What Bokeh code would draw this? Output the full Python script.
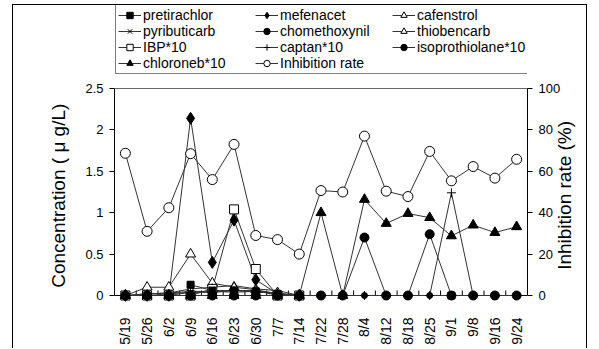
import math
from bokeh.plotting import figure
from bokeh.models import (Range1d, LinearAxis, FixedTicker, Legend, LegendItem,
                          Span, NumeralTickFormatter)
from bokeh.embed import file_html
from bokeh.resources import INLINE

nan = float("nan")

# ---------------- data ----------------
dates = ["5/19", "5/26", "6/2", "6/9", "6/16", "6/23", "6/30", "7/7", "7/14",
         "7/22", "7/28", "8/4", "8/12", "8/18", "8/25", "9/1", "9/8", "9/16", "9/24"]

pretirachlor = [nan, nan, nan, 0.13, 0.06, 0.06, 0.05, 0.02, nan,
                nan, nan, nan, nan, nan, nan, 0.0, nan, nan, nan]
mefenacet = [0.0, 0.0, 0.0, 2.14, 0.40, 0.91, 0.19, 0.02, 0.0,
             nan, nan, nan, nan, nan, nan, nan, nan, nan, nan]
cafenstrol = [0.0, 0.10, 0.10, 0.50, 0.15, 0.10, 0.07, 0.02, 0.0,
              nan, nan, nan, nan, nan, nan, nan, nan, nan, nan]
pyributicarb = [0.0, 0.02, 0.03, 0.05, 0.05, 0.04, 0.05, 0.02, 0.0,
                nan, nan, nan, nan, nan, nan, nan, nan, nan, nan]
chomethoxynil = [0.0, 0.0, 0.0, 0.04, 0.04, 0.06, 0.06, 0.0, 0.0,
                 0.0, 0.0, 0.0, 0.0, 0.0, 0.0, 0.0, 0.0, 0.0, 0.0]
thiobencarb = [0.0, 0.02, 0.03, 0.08, 0.10, 0.12, 0.08, 0.06, 0.0,
               nan, nan, nan, nan, nan, nan, nan, nan, nan, nan]
ibp_x10 = [0.0, 0.0, 0.0, 0.0, 0.08, 1.04, 0.32, 0.0, 0.0,
           nan, nan, nan, nan, nan, nan, nan, nan, nan, nan]
captan_x10 = [0.0, 0.0, 0.02, 0.04, 0.04, 0.06, 0.05, 0.03, 0.0,
              0.0, 0.0, 0.0, 0.0, 0.0, 0.0, 1.24, 0.0, 0.0, 0.0]
isoprothiolane_x10 = [0.0, 0.0, 0.0, 0.0, 0.0, 0.0, 0.0, 0.0, 0.0,
                      0.0, 0.0, 0.70, 0.0, 0.0, 0.74, 0.0, 0.0, 0.0, 0.0]
chloroneb_x10 = [0.0, 0.0, 0.0, 0.0, 0.0, 0.0, 0.0, 0.0, 0.0,
                 1.00, 0.0, 1.16, 0.87, 0.99, 0.94, 0.72, 0.85, 0.76, 0.83]
inhibition_rate = [68.7, 31.0, 42.4, 68.5, 56.0, 73.0, 29.0, 27.0, 20.0,
                   50.7, 50.0, 77.0, 50.4, 47.8, 69.6, 55.4, 62.3, 56.7, 65.8]

conc_ticks = [0, 0.5, 1, 1.5, 2, 2.5]
rate_ticks = [0, 20, 40, 60, 80, 100]
CONC_MAX = 2.5
RATE_MAX = 100
conc_title = "Concentration ( \u03bc g/L)"
rate_title = "Inhibition rate (%)"

# ---------------- layout ----------------
FONT = "Liberation Sans"
W, H = 575, 344            # canvas inside the outer frame
ML, MR, MT, MB = 101, 57, 0, 48
TOP_VALUE_Y = 83           # canvas px of the 2.5 / 100 line
PAD_B = 6                  # px of frame below zero so zero markers are not clipped
PAD_T = TOP_VALUE_Y - MT   # room above the data area for the legend
frame_h = H - MT - MB
upp = CONC_MAX / (frame_h - PAD_B - PAD_T)   # data units per pixel
y0, y1 = -PAD_B * upp, CONC_MAX + PAD_T * upp
k = RATE_MAX / CONC_MAX
NBSP = "\u00a0"

xs = list(range(1, len(dates) + 1))
bounds_x = [i + 0.5 for i in range(len(dates) + 1)]

p = figure(width=W, height=H, output_backend="svg", toolbar_location=None,
           x_range=Range1d(0.5, len(dates) + 0.5), y_range=Range1d(y0, y1),
           min_border_left=ML, min_border_right=MR, min_border_top=MT, min_border_bottom=MB,
           margin=(4, 0, 0, 12),
           styles={"border-top": "1px solid #000000", "border-left": "1px solid #000000",
                   "border-right": "1px solid #000000"})
p.extra_y_ranges = {"rate": Range1d(y0 * k, y1 * k)}
p.outline_line_color = None
p.xgrid.visible = False
p.ygrid.visible = False
p.background_fill_color = "white"
p.border_fill_color = "white"

# x axis (labels only; axis line drawn at zero)
xa = p.xaxis[0]
xa.ticker = FixedTicker(ticks=xs)
xa.major_label_overrides = {x: d for x, d in zip(xs, dates)}
xa.major_tick_line_color = None
xa.minor_tick_line_color = None
xa.axis_line_color = None
xa.major_label_orientation = math.pi / 2
xa.major_label_standoff = 10
xa.major_label_text_font = FONT
xa.major_label_text_font_size = "14px"
xa.major_label_text_color = "black"

p.add_layout(Span(location=0, dimension="width", line_color="black", line_width=1,
                  level="underlay"))
p.add_layout(Span(location=CONC_MAX, dimension="width", line_color="#666666", line_width=1,
                  level="underlay"))
p.segment(x0=bounds_x, y0=[0] * len(bounds_x), x1=bounds_x, y1=[5 * upp] * len(bounds_x),
          line_color="black", line_width=1)

# left axis (title nudged down to centre on the data area)
ya = p.yaxis[0]
ya.ticker = FixedTicker(ticks=conc_ticks)
ya.formatter = NumeralTickFormatter(format="0.[0]")
ya.bounds = (0, CONC_MAX)
ya.major_tick_in = 0
ya.major_tick_out = 5
ya.minor_tick_line_color = None
ya.axis_line_color = "black"
ya.major_tick_line_color = "black"
ya.major_label_standoff = 6
ya.major_label_text_font = FONT
ya.major_label_text_font_size = "13px"
ya.major_label_text_color = "black"
ya.axis_label = conc_title + NBSP * 16
ya.axis_label_text_font = FONT
ya.axis_label_text_font_size = "19px"
ya.axis_label_text_font_style = "normal"
ya.axis_label_text_color = "black"
ya.axis_label_standoff = 13

# right axis
ra = LinearAxis(y_range_name="rate", ticker=FixedTicker(ticks=rate_ticks), bounds=(0, RATE_MAX))
ra.major_tick_in = 0
ra.major_tick_out = 5
ra.minor_tick_line_color = None
ra.axis_line_color = "black"
ra.major_tick_line_color = "black"
ra.major_label_standoff = 6
ra.major_label_text_font = FONT
ra.major_label_text_font_size = "13px"
ra.major_label_text_color = "black"
props = ra.properties()
if "axis_label_align" in props and "axis_label_orientation" in props:
    ra.axis_label_orientation = math.pi / 2
    ra.axis_label_align = "start"
    ra.axis_label = NBSP * 6 + rate_title
else:
    ra.axis_label = NBSP * 17 + rate_title
ra.axis_label_text_font = FONT
ra.axis_label_text_font_size = "19px"
ra.axis_label_text_font_style = "normal"
ra.axis_label_text_color = "black"
ra.axis_label_standoff = 1
p.add_layout(ra, "right")

# ---------------- series ----------------
LINE = "#333333"
series = [
    ("pretirachlor", pretirachlor, "square", 7, "black", "default"),
    ("mefenacet", mefenacet, "diamond", 12, "black", "default"),
    ("cafenstrol", cafenstrol, "triangle", 10, "white", "default"),
    ("pyributicarb", pyributicarb, "x", 7, None, "default"),
    ("chomethoxynil", chomethoxynil, "circle", 6, "black", "default"),
    ("thiobencarb", thiobencarb, "triangle", 6, "white", "default"),
    ("IBP*10", ibp_x10, "square", 9, "white", "default"),
    ("captan*10", captan_x10, "cross", 9, None, "default"),
    ("isoprothiolane*10", isoprothiolane_x10, "circle", 9, "black", "default"),
    ("chloroneb*10", chloroneb_x10, "triangle", 10, "black", "default"),
    ("Inhibition rate", inhibition_rate, "circle", 10, "white", "rate"),
]

renders = {}
for name, vals, marker, size, fill, rng in series:
    ln = p.line(xs, vals, line_color=LINE, line_width=1, y_range_name=rng)
    renders[name] = [ln]

order = [s for s in series if s[0] not in ("pretirachlor", "Inhibition rate")]
order += [s for s in series if s[0] == "pretirachlor"]
order += [s for s in series if s[0] == "Inhibition rate"]
for name, vals, marker, size, fill, rng in order:
    kw = dict(marker=marker, size=size, line_color="black", line_width=1, y_range_name=rng)
    if fill is None:
        kw["fill_alpha"] = 0
    else:
        kw["fill_color"] = fill
    renders[name].append(p.scatter(xs, vals, **kw))

# ---------------- legend (inside the frame, above the data area) ----------------
legend_order = ["pretirachlor", "pyributicarb", "IBP*10", "chloroneb*10",
                "mefenacet", "chomethoxynil", "captan*10", "Inhibition rate",
                "cafenstrol", "thiobencarb", "isoprothiolane*10"]
items = [LegendItem(label=n, renderers=renders[n]) for n in legend_order]
LEG_BOTTOM = 69            # canvas px
lg = Legend(items=items, location=(1, H - MB - LEG_BOTTOM),
            orientation="vertical", ncols=3,
            border_line_color="black", border_line_width=1,
            background_fill_color="white", background_fill_alpha=1,
            padding=2, spacing=0, margin=0,
            glyph_width=23, glyph_height=16, label_height=16, label_width=112,
            label_standoff=2, label_text_font=FONT,
            label_text_font_size="14px", label_text_color="black")
p.add_layout(lg)

open("out.html", "w").write(file_html(p, INLINE))
